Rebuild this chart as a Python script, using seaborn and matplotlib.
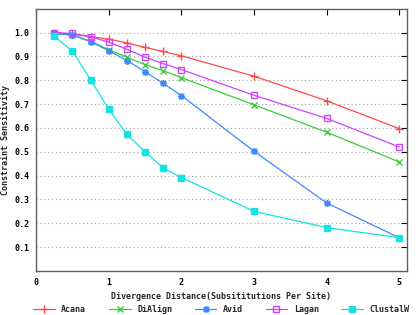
import matplotlib
matplotlib.use("Agg")
import matplotlib.pyplot as plt
import seaborn as sns
import pandas as pd

x = [0.25, 0.5, 0.75, 1.0, 1.25, 1.5, 1.75, 2.0, 3.0, 4.0, 5.0]
acana = [1.0, 0.993, 0.983, 0.973, 0.957, 0.938, 0.921, 0.903, 0.817, 0.714, 0.597]
dialign = [0.996, 0.99, 0.964, 0.928, 0.897, 0.866, 0.840, 0.811, 0.697, 0.582, 0.457]
avid = [0.997, 0.99, 0.962, 0.924, 0.883, 0.836, 0.787, 0.736, 0.502, 0.285, 0.139]
lagan = [1.0, 0.997, 0.983, 0.960, 0.930, 0.897, 0.870, 0.845, 0.737, 0.640, 0.520]
clustalw = [0.985, 0.922, 0.802, 0.679, 0.573, 0.500, 0.432, 0.392, 0.250, 0.182, 0.139]

names = ["Acana", "DiAlign", "Avid", "Lagan", "ClustalW"]
series = [acana, dialign, avid, lagan, clustalw]
colors = ["#ff4848", "#3ccc3c", "#3c8cff", "#cc44ff", "#10e4e4"]
markers = ["+", "x", (8, 2, 0), "s", "s"]
filled = [True, True, True, False, True]
msizes = [6, 5, 5, 4.5, 4.5]

sns.set_style("white")
plt.rcParams['font.family'] = ['DejaVu Sans Mono']
plt.rcParams['font.weight'] = 'bold'

fig = plt.figure(figsize=(4.2, 3.15), dpi=100)
ax = fig.add_axes([0.086, 0.140, 0.882, 0.832])

for name, vals, c, m, f, ms in zip(names, series, colors, markers, filled, msizes):
    df = pd.DataFrame({"x": x, "y": vals})
    sns.lineplot(data=df, x="x", y="y", ax=ax, color=c, linewidth=0.9,
                 marker=m, markersize=ms, markeredgewidth=1.0,
                 markerfacecolor=(c if f else "none"), markeredgecolor=c,
                 label=name)

ax.set_xlim(0, 5.1)
ax.set_ylim(0, 1.1)
ax.set_xticks([0, 1, 2, 3, 4, 5])
ax.set_xticklabels(["0", "1", "2", "3", "4", "5"])
yt = [0.1, 0.2, 0.3, 0.4, 0.5, 0.6, 0.7, 0.8, 0.9, 1.0]
ax.set_yticks(yt)
ax.set_yticklabels([f"{v:.1f}" for v in yt])
ax.tick_params(direction="in", top=True, right=True, length=4, width=0.8,
               labelsize=6, colors="black", pad=5)
ax.yaxis.grid(True, linestyle=(0, (1, 2.5)), color="#a0a0a0", linewidth=0.8)
ax.xaxis.grid(False)
for s in ax.spines.values():
    s.set_color("#606060")
    s.set_linewidth(1.0)

ax.set_xlabel("Divergence Distance(Subsititutions Per Site)", fontsize=6, fontweight="bold", labelpad=4)
ax.set_ylabel("Constraint Sensitivity", fontsize=6, fontweight="bold", labelpad=3)

ax.legend(loc="upper center", bbox_to_anchor=(0.50, -0.1), ncol=5, frameon=False,
          fontsize=6, handlelength=2.6, columnspacing=2.7, handletextpad=0.8)

fig.savefig("out.png", dpi=100)
